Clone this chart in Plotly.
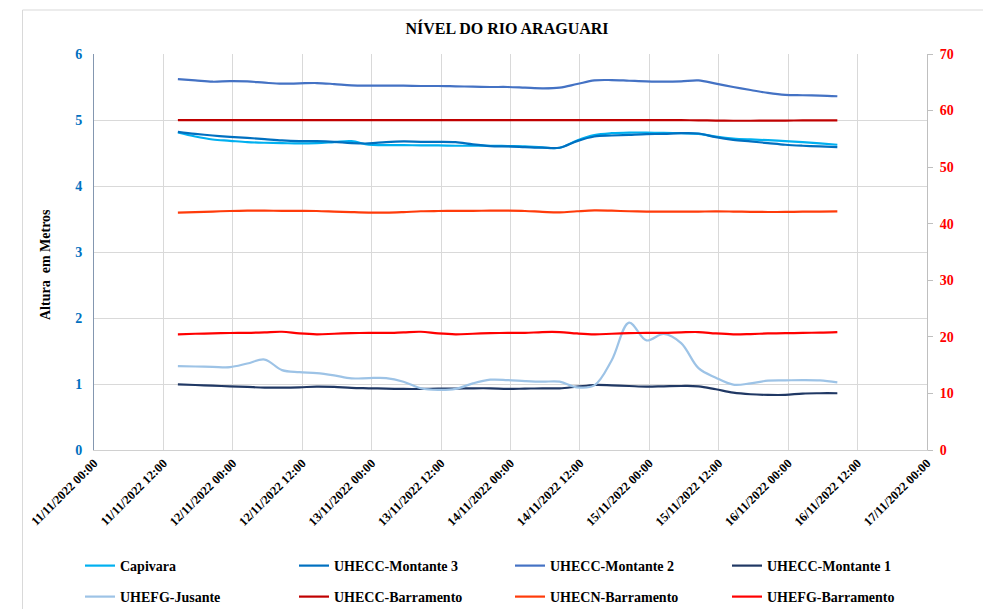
import pandas as pd
import plotly.graph_objects as go

# ---- data ----
times = pd.date_range("2022-11-11 14:30", periods=39, freq="3h")

capivara = [4.81, 4.75, 4.705, 4.685, 4.665, 4.655, 4.65, 4.645, 4.65, 4.665,
            4.68, 4.625, 4.62, 4.62, 4.615, 4.615, 4.61, 4.61, 4.61, 4.605,
            4.60, 4.585, 4.58, 4.69, 4.77, 4.80, 4.81, 4.81, 4.805, 4.80,
            4.79, 4.75, 4.72, 4.705, 4.695, 4.68, 4.665, 4.645, 4.625]

montante3 = [4.82, 4.79, 4.765, 4.745, 4.73, 4.71, 4.69, 4.68, 4.68, 4.67,
             4.65, 4.645, 4.665, 4.675, 4.67, 4.67, 4.665, 4.63, 4.605, 4.60,
             4.59, 4.58, 4.58, 4.68, 4.75, 4.765, 4.775, 4.785, 4.79, 4.80,
             4.795, 4.74, 4.70, 4.675, 4.65, 4.625, 4.61, 4.60, 4.59]

montante2 = [5.62, 5.60, 5.58, 5.59, 5.585, 5.565, 5.55, 5.555, 5.56, 5.545,
             5.525, 5.52, 5.52, 5.52, 5.515, 5.515, 5.51, 5.505, 5.50, 5.50,
             5.49, 5.48, 5.49, 5.545, 5.60, 5.605, 5.595, 5.585, 5.58, 5.585,
             5.60, 5.55, 5.50, 5.455, 5.41, 5.38, 5.375, 5.37, 5.36]

montante1 = [0.995, 0.985, 0.975, 0.965, 0.955, 0.945, 0.945, 0.95, 0.96, 0.955,
             0.94, 0.935, 0.93, 0.925, 0.925, 0.93, 0.93, 0.935, 0.935, 0.925,
             0.93, 0.935, 0.935, 0.96, 0.985, 0.98, 0.97, 0.96, 0.965, 0.97,
             0.965, 0.92, 0.87, 0.845, 0.835, 0.835, 0.855, 0.86, 0.86]

jusante = [1.27, 1.265, 1.26, 1.255, 1.31, 1.37, 1.21, 1.18, 1.165, 1.13,
           1.085, 1.09, 1.09, 1.035, 0.935, 0.91, 0.925, 1.01, 1.065, 1.06,
           1.045, 1.035, 1.035, 0.95, 0.98, 1.36, 1.93, 1.66, 1.76, 1.62,
           1.24, 1.095, 0.99, 1.01, 1.05, 1.055, 1.06, 1.055, 1.025]

uhecc_barr = [58.3, 58.3, 58.3, 58.3, 58.3, 58.3, 58.3, 58.3, 58.3, 58.3,
              58.3, 58.3, 58.3, 58.3, 58.3, 58.3, 58.3, 58.3, 58.3, 58.3,
              58.3, 58.3, 58.3, 58.3, 58.3, 58.3, 58.3, 58.3, 58.3, 58.3,
              58.28, 58.24, 58.2, 58.2, 58.22, 58.24, 58.25, 58.25, 58.25]

uhecn_barr = [41.95, 42.05, 42.15, 42.25, 42.3, 42.3, 42.28, 42.27, 42.25, 42.15,
              42.05, 41.97, 41.95, 42.05, 42.2, 42.25, 42.27, 42.28, 42.3, 42.3,
              42.25, 42.1, 42.0, 42.2, 42.35, 42.3, 42.2, 42.15, 42.12, 42.13,
              42.15, 42.18, 42.15, 42.1, 42.07, 42.08, 42.12, 42.15, 42.18]

uhefg_barr = [20.45, 20.55, 20.62, 20.68, 20.7, 20.8, 20.9, 20.6, 20.45, 20.55,
              20.65, 20.7, 20.7, 20.8, 20.9, 20.6, 20.45, 20.55, 20.65, 20.7,
              20.7, 20.85, 20.85, 20.6, 20.45, 20.55, 20.65, 20.7, 20.7, 20.8,
              20.85, 20.6, 20.45, 20.5, 20.6, 20.65, 20.7, 20.75, 20.85]

series = [
    ("Capivara", capivara, "#00B0F0", "y"),
    ("UHECC-Montante 3", montante3, "#0070C0", "y"),
    ("UHECC-Montante 2", montante2, "#4472C4", "y"),
    ("UHECC-Montante 1", montante1, "#203864", "y"),
    ("UHEFG-Jusante", jusante, "#9DC3E6", "y"),
    ("UHECC-Barramento", uhecc_barr, "#C00000", "y2"),
    ("UHECN-Barramento", uhecn_barr, "#FF3B0A", "y2"),
    ("UHEFG-Barramento", uhefg_barr, "#FF0000", "y2"),
]

FONT = "Liberation Serif, DejaVu Serif, serif"

# the page body adds an 8 px offset; design in screen pixels and shift
OFF = 8
SW, SH = 991, 609
W, H = SW - OFF, SH - OFF
# plot area in screen pixels: left 94, right 927, top 54, bottom 450
L, R, T, B = 94 - OFF, SW - 927, 54 - OFF, SH - 450
pw, ph = W - L - R, H - T - B


def px_x(p):
    return (p - OFF - L) / pw


def px_y(p):
    return (H - B - (p - OFF)) / ph


legend_cols_px = [80, 294, 510, 727]
legend_rows_px = [566, 597]

fig = go.Figure()
legend_layout = {}
for i, (name, vals, col, ax) in enumerate(series):
    lname = "legend" if i == 0 else f"legend{i + 1}"
    fig.add_trace(go.Scatter(x=times, y=vals, name=name, mode="lines",
                             line=dict(color=col, width=2.2, shape="spline"),
                             yaxis=ax, legend=lname))
    legend_layout[lname] = dict(
        x=px_x(legend_cols_px[i % 4]), y=px_y(legend_rows_px[i // 4]),
        xanchor="left", yanchor="middle", orientation="h",
        font=dict(family=FONT, size=14, color="black", weight="bold"),
        bgcolor="rgba(0,0,0,0)", itemwidth=30)

fig.update_layout(
    width=W, height=H,
    margin=dict(l=L, r=R, t=T, b=B, autoexpand=False),
    paper_bgcolor="white", plot_bgcolor="white",
    font=dict(family=FONT, color="black"),
    title=dict(text="<b>NÍVEL DO RIO ARAGUARI</b>", x=(507 - OFF) / W,
               xanchor="center", y=1 - (28 - OFF) / H, yanchor="middle",
               font=dict(family=FONT, size=16, color="black")),
    xaxis=dict(type="date", range=["2022-11-11 00:00", "2022-11-17 00:00"],
               tick0="2022-11-11 00:00", dtick=43200000,
               tickformat="%d/%m/%Y %H:%M", tickangle=-45,
               tickfont=dict(family=FONT, size=12.5, color="black", weight="bold"),
               showgrid=True, gridcolor="#D9D9D9", gridwidth=1,
               showline=True, linecolor="#D0D0D0", linewidth=1,
               ticks="", zeroline=False),
    yaxis=dict(range=[0, 6], dtick=1, showgrid=True, gridcolor="#D9D9D9",
               tickfont=dict(family=FONT, size=14, color="#0070C0", weight="bold"),
               showline=True, linecolor="#8497B0", linewidth=1,
               ticks="", ticklabelstandoff=8, zeroline=False),
    yaxis2=dict(range=[0, 70], dtick=10, overlaying="y", side="right",
                showgrid=False, zeroline=False,
                tickfont=dict(family=FONT, size=14, color="#FF0000", weight="bold"),
                showline=True, linecolor="#BFBFBF", linewidth=1,
                ticks="outside", ticklen=5, tickcolor="#BFBFBF",
                ticklabelstandoff=4),
    showlegend=True,
    **legend_layout,
)

fig.add_annotation(text="<b>Altura  em Metros</b>", textangle=-90,
                   xref="paper", yref="paper", x=px_x(45), y=px_y(265),
                   xanchor="center", yanchor="middle", showarrow=False,
                   font=dict(family=FONT, size=14, color="black"))

fig.add_shape(type="rect", xref="paper", yref="paper",
              x0=px_x(22.5), x1=px_x(986.5), y0=px_y(640), y1=px_y(10),
              line=dict(color="#D9D9D9", width=1), fillcolor="rgba(0,0,0,0)",
              layer="below")

fig.write_html("out.html")
